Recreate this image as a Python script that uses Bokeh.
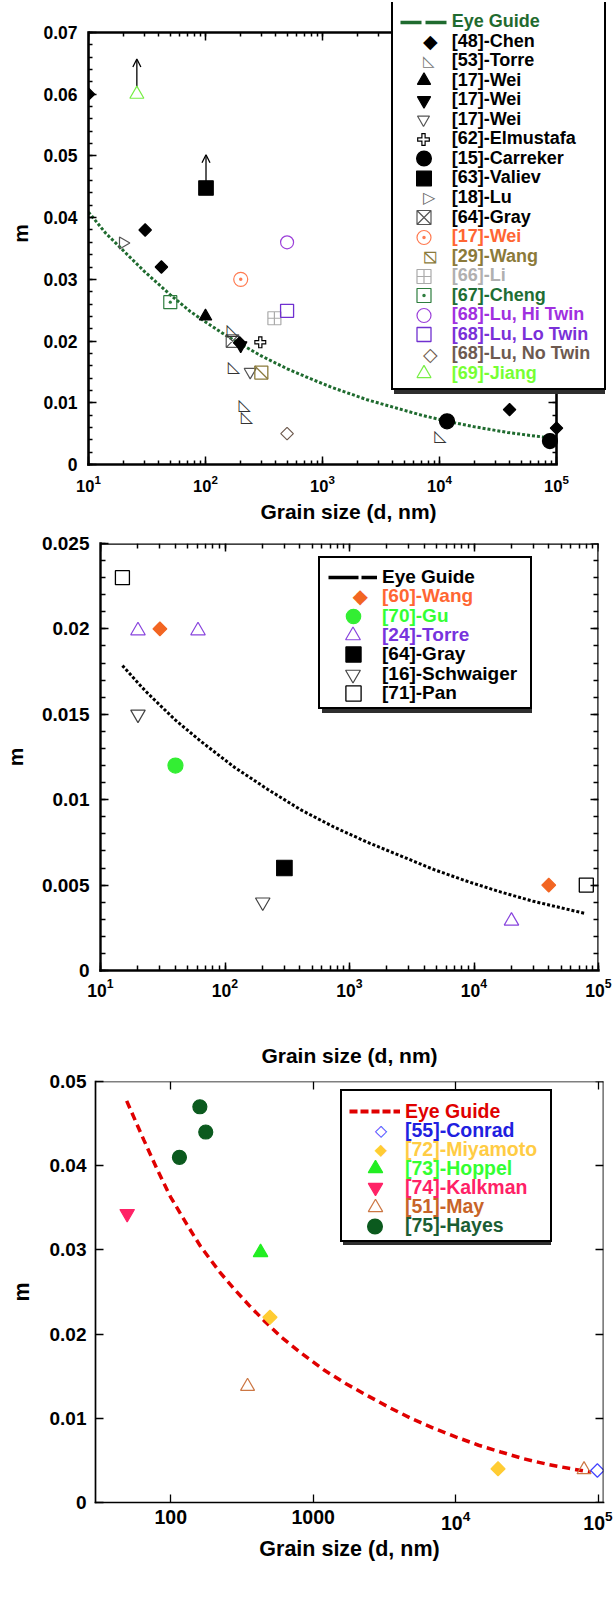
import math

from bokeh.core.properties import value
from bokeh.embed import file_html
from bokeh.layouts import column
from bokeh.models import (Arrow, CustomJSTickFormatter, FixedTicker, Legend,
                          LegendItem, LinearAxis, LogAxis, LogTicker, LogTickFormatter,
                          OpenHead, Range1d)
from bokeh.plotting import figure
from bokeh.resources import INLINE

FONT = "Liberation Sans"
SYM_FONT = "DejaVu Sans"
ROT = math.pi / 4

# ----------------------------------------------------------------- panel 1 data
p1_y_ticks = [0, 0.01, 0.02, 0.03, 0.04, 0.05, 0.06, 0.07]
p1_y_tick_labels = ["0", "0.01", "0.02", "0.03", "0.04", "0.05", "0.06", "0.07"]

p1_guide_d = [10, 14, 20, 30, 50, 74, 100, 150, 200, 300, 500, 790, 1200, 2400,
              4000, 7000, 11600, 20000, 38000, 60000, 81000]
p1_guide_m = [0.0409, 0.0375, 0.0346, 0.0313, 0.0275, 0.0248, 0.0231, 0.0209, 0.0195,
              0.0176, 0.0155, 0.0139, 0.0125, 0.0105, 0.0093, 0.0080, 0.0070, 0.0061,
              0.0052, 0.0047, 0.0044]

p1_chen_d = [10, 30.5, 42, 196, 39700, 100000]
p1_chen_m = [0.060, 0.038, 0.032, 0.0197, 0.0089, 0.0059]
p1_torre_d = [171, 175, 216, 226, 10200]
p1_torre_m = [0.0218, 0.0159, 0.0098, 0.0077, 0.0047]
p1_wei_up_d, p1_wei_up_m = [100], [0.024]
p1_wei_down_d, p1_wei_down_m = [200], [0.0193]
p1_wei_open_d, p1_wei_open_m = [241], [0.0150]
p1_elmustafa_d, p1_elmustafa_m = [294], [0.0198]
p1_carreker_d, p1_carreker_m = [11600, 87900], [0.0070, 0.0038]
p1_valiev_d, p1_valiev_m = [101], [0.0448]
p1_lu_d, p1_lu_m = [19.7], [0.0359]
p1_gray_d, p1_gray_m = [170], [0.0200]
p1_wei_orange_d, p1_wei_orange_m = [200], [0.0300]
p1_wang_d, p1_wang_m = [300], [0.0149]
p1_li_d, p1_li_m = [388], [0.0237]
p1_cheng_d, p1_cheng_m = [50], [0.0263]
p1_lu_hi_d, p1_lu_hi_m = [498], [0.0360]
p1_lu_lo_d, p1_lu_lo_m = [498], [0.0249]
p1_lu_no_d, p1_lu_no_m = [498], [0.0050]
p1_jiang_d, p1_jiang_m = [25.9], [0.0600]
# lower bounds: arrows pointing upward from these points
p1_arrow_d = [25.9, 101]
p1_arrow_from = [0.0600, 0.0448]
p1_arrow_to = [0.0657, 0.0502]

# ----------------------------------------------------------------- panel 2 data
p2_y_ticks = [0, 0.005, 0.01, 0.015, 0.02, 0.025]
p2_y_tick_labels = ["0", "0.005", "0.01", "0.015", "0.02", "0.025"]

p2_guide_d = [15, 22.7, 39.4, 64.4, 119, 221, 408, 750, 1400, 2600, 4800, 9000,
              16300, 30000, 55000, 77000]
p2_guide_m = [0.01785, 0.0164, 0.0147, 0.0134, 0.0119, 0.0106, 0.0094, 0.0084, 0.0075,
              0.0067, 0.0059, 0.0052, 0.0046, 0.00405, 0.0036, 0.00335]

p2_wang_d, p2_wang_m = [30, 39850], [0.0200, 0.0050]
p2_gu_d, p2_gu_m = [40], [0.0120]
p2_torre_d, p2_torre_m = [20, 60.7, 20000], [0.0199, 0.0199, 0.0029]
p2_gray_d, p2_gray_m = [300], [0.0060]
p2_schwaiger_d, p2_schwaiger_m = [20, 201], [0.0150, 0.0040]
p2_pan_d, p2_pan_m = [15, 79800], [0.0230, 0.0050]

# ----------------------------------------------------------------- panel 3 data
p3_y_ticks = [0, 0.01, 0.02, 0.03, 0.04, 0.05]
p3_y_tick_labels = ["0", "0.01", "0.02", "0.03", "0.04", "0.05"]

p3_guide_d = [49, 64.5, 80, 99.5, 130, 162, 220, 277, 360, 452, 600, 815, 1200, 1700,
              2400, 3500, 5000, 7050, 10000, 14500, 20750, 30000, 45000, 65000, 89000]
p3_guide_m = [0.0477, 0.0431, 0.0396, 0.0363, 0.0330, 0.0304, 0.0274, 0.0254, 0.0233,
              0.0216, 0.0196, 0.0178, 0.0157, 0.0141, 0.0127, 0.0112, 0.0099, 0.0088,
              0.0078, 0.0068, 0.0060, 0.0052, 0.0045, 0.0040, 0.0036]

p3_conrad_d, p3_conrad_m = [99000], [0.0038]
p3_miyamoto_d, p3_miyamoto_m = [497, 19860], [0.0220, 0.0040]
p3_hoppel_d, p3_hoppel_m = [427], [0.0297]
p3_kalkman_d, p3_kalkman_m = [49.4], [0.0343]
p3_may_d, p3_may_m = [346, 79800], [0.0138, 0.0039]
p3_hayes_d, p3_hayes_m = [160, 176, 115], [0.0470, 0.0440, 0.0410]

XLABEL = "Grain size (d, nm)"
YLABEL = "m"


# ----------------------------------------------------------------- helpers
def make_panel(cfg):
    """A log-x panel whose plotting box may be smaller than the frame.

    The box is drawn by four axes restricted with ``bounds``; the frame can
    extend beyond it so that the legend may overhang the box."""
    h = cfg["height"]
    x0, x1 = cfg["x_box"]
    y0, y1 = cfg["y_box"]
    p = figure(width=614, height=h, x_axis_type="log",
               x_range=Range1d(*cfg["x_range"]), y_range=Range1d(*cfg["y_range"]),
               output_backend="svg", toolbar_location=None, frame_align=False,
               min_border_left=cfg["left"], min_border_right=614 - cfg["right"],
               min_border_top=cfg["top"], min_border_bottom=h - cfg["bottom"])
    p.grid.visible = False
    p.background_fill_color = "white"
    p.border_fill_color = "white"
    p.outline_line_color = None

    xt = LogTicker(num_minor_ticks=10 if cfg["x_minor"] else 0)
    yt = FixedTicker(ticks=cfg["y_ticks"], minor_ticks=cfg["y_minor"])

    xa = p.xaxis[0]
    xa.ticker = xt
    xa.formatter = cfg["x_formatter"]
    xa.axis_label = XLABEL
    xa.major_label_text_font_size = cfg["xtick_font"]
    xa.major_label_standoff = cfg["xtick_standoff"]
    xa.axis_label_standoff = cfg["xlabel_standoff"]

    ya = p.yaxis[0]
    ya.ticker = yt
    ya.major_label_overrides = dict(zip(cfg["y_ticks"], cfg["y_labels"]))
    ya.axis_label = YLABEL
    ya.major_label_text_font_size = cfg["ytick_font"]
    ya.major_label_standoff = cfg["ytick_standoff"]
    ya.axis_label_standoff = cfg["ylabel_standoff"]

    blank = CustomJSTickFormatter(code="return ''")
    top_ax = LogAxis(ticker=xt, formatter=blank, major_label_standoff=0, fixed_location=y1)
    right_ax = LinearAxis(ticker=yt, formatter=blank, major_label_standoff=0, fixed_location=x1)
    p.add_layout(top_ax, "above")
    p.add_layout(right_ax, "right")

    for ax in (xa, top_ax):
        ax.bounds = (x0, x1)
    for ax in (ya, right_ax):
        ax.bounds = (y0, y1)

    for ax in (xa, ya, top_ax, right_ax):
        ax.axis_line_color = "black"
        ax.axis_line_width = cfg["frame_w"]
        ax.axis_line_cap = "square"
        ax.major_tick_in = cfg["major_len"]
        ax.major_tick_out = 0
        ax.minor_tick_in = cfg["minor_len"]
        ax.minor_tick_out = 0
        ax.major_tick_line_color = "black"
        ax.major_tick_line_width = cfg["tick_w"]
        ax.minor_tick_line_color = "black"
        ax.minor_tick_line_width = cfg["tick_w"]
        ax.major_label_text_font = FONT
        ax.major_label_text_font_style = "bold"
        ax.major_label_text_color = "black"
        ax.axis_label_text_font = FONT
        ax.axis_label_text_font_style = "bold"
        ax.axis_label_text_font_size = cfg["label_font"]
        ax.axis_label_text_color = "black"
    if not cfg["x_minor"]:
        xa.minor_tick_line_color = None
        top_ax.minor_tick_line_color = None

    ghost = p.scatter(x=[], y=[], size=1, fill_alpha=0, line_alpha=0)
    return p, ghost


ROW_H = 60


def _bare(item, loc, gw, **kw):
    return Legend(items=[item], location=loc, padding=0, margin=0, spacing=0,
                  glyph_width=gw, glyph_height=ROW_H, label_width=0, label_height=0,
                  border_line_alpha=0, background_fill_alpha=0, **kw)


def legend_box(p, fr, box, ghost, shadow, border_w):
    left, top, right, bottom = box[0], box[1] - fr["off"], box[2], box[3] - fr["off"]
    w, h = int(round(right - left)), int(round(bottom - top))
    for dx, fill, alpha in ((shadow, "#2e2e2e", 0), (0, "white", 1)):
        item = LegendItem(label="", renderers=[ghost])
        loc = (left + dx - fr["left"], fr["bottom"] - bottom - dx)
        p.add_layout(Legend(items=[item], location=loc, padding=0, margin=0, spacing=0,
                            glyph_width=w, glyph_height=h, label_width=0, label_height=0,
                            label_standoff=0, label_text_alpha=0, label_text_font_size="1px",
                            background_fill_color=fill, background_fill_alpha=1,
                            border_line_color="black", border_line_alpha=alpha,
                            border_line_width=border_w))


def legend_glyph(p, fr, renderers, gw, cx, cy):
    cy = cy - fr["off"]
    item = LegendItem(label="", renderers=renderers)
    loc = (cx - gw / 2 - fr["left"], fr["bottom"] - cy - ROW_H / 2)
    p.add_layout(_bare(item, loc, gw, label_standoff=0, label_text_alpha=0,
                       label_text_font_size="1px"))


def legend_text(p, fr, text, color, x, cy, font_size, ghost, font=FONT, style="bold",
                align="left"):
    cy = cy - fr["off"]
    item = LegendItem(label=text, renderers=[ghost])
    loc = (x - 1 - fr["left"], fr["bottom"] - cy - ROW_H / 2)
    p.add_layout(_bare(item, loc, 1, label_standoff=0, label_text_color=color,
                       label_text_font=font, label_text_font_style=style,
                       label_text_font_size=font_size, label_text_align=align))


def build_legend(p, fr, ghost, spec, rows):
    legend_box(p, fr, spec["box"], ghost, spec["shadow"], spec["border_w"])
    for i, (label, color, parts) in enumerate(rows):
        cy = spec["y0"] + i * spec["pitch"]
        for kind, obj, px in parts:
            if kind == "line":
                legend_glyph(p, fr, [obj], spec["line_w"], spec["cx"], cy)
            elif kind == "char":
                legend_text(p, fr, obj, px[0], spec["cx"], cy + px[2], px[1], ghost,
                            font=SYM_FONT, style="normal", align="center")
            else:
                legend_glyph(p, fr, obj, max(int(round(px / 0.4)), 2), spec["cx"], cy)
        legend_text(p, fr, label, color, spec["label_x"], cy, spec["font"], ghost)


def mk(p, d, m, marker, size, fill=None, line="black", lw=1.2, angle=0.0):
    return p.scatter(x=d, y=m, marker=marker, size=size, angle=angle,
                     fill_color=fill if fill else "white", fill_alpha=1 if fill else 0,
                     line_color=line, line_width=lw)


# ================================================================= panel 1
# plotting box: x 88..556 px (10..1e5), y 464..32 px (0..0.07); the frame
# reaches further up and right so the legend may overhang the box.
P1_DECADE = (556 - 88) / 4.0
P1_XMAX = 10 ** (5 + (608 - 556) / P1_DECADE)
P1_YMAX = 0.07 * (464 - 2) / (464 - 32)
cfg1 = dict(height=530, left=88, right=608, top=2, bottom=464,
            x_range=(10, P1_XMAX), y_range=(0, P1_YMAX),
            x_box=(10, 1e5), y_box=(0, 0.07), frame_w=2.6, tick_w=1.5,
            major_len=8, minor_len=4, x_minor=True,
            y_ticks=p1_y_ticks, y_labels=p1_y_tick_labels,
            y_minor=[round(0.002 * i, 3) for i in range(36)],
            x_formatter=LogTickFormatter(), xtick_font="16.5px", ytick_font="17.5px",
            label_font="21px", xtick_standoff=10, ytick_standoff=11,
            xlabel_standoff=5, ylabel_standoff=8)
p1, ghost1 = make_panel(cfg1)
fr1 = dict(left=88, bottom=464, off=0)

GREEN1 = "#1f6b2f"
p1.line(p1_guide_d, p1_guide_m, line_color=GREEN1, line_width=3, line_dash="3 2")
guide1_key = p1.line(p1_guide_d, p1_guide_m, line_color=GREEN1, line_width=3.5,
                     line_dash="21 4", visible=False)

for d, m0, m1 in zip(p1_arrow_d, p1_arrow_from, p1_arrow_to):
    p1.add_layout(Arrow(end=OpenHead(size=8, line_width=1.3, line_color="black"),
                        x_start=d, y_start=m0, x_end=d, y_end=m1,
                        line_width=1.3, line_color="black", level="underlay"))

r_gray = mk(p1, p1_gray_d, p1_gray_m, "square_x", 12.5, line="#555555")
p1.text(x=p1_torre_d, y=p1_torre_m, text=value("\u25fa"), text_font=value(SYM_FONT),
        text_font_size=value("16px"), text_color="#333333",
        text_align="center", text_baseline="middle")
r_wei_open = mk(p1, p1_wei_open_d, p1_wei_open_m, "inverted_triangle", 12, line="#555555")
r_lu = mk(p1, p1_lu_d, p1_lu_m, "triangle", 12, line="#555555", angle=-math.pi / 2)
r_wei_or = mk(p1, p1_wei_orange_d, p1_wei_orange_m, "circle_dot", 14, line="#ff7a50")
r_wang_sq = mk(p1, p1_wang_d, p1_wang_m, "square", 13, line="#8b7b3b", lw=1.3)
r_wang_dg = mk(p1, p1_wang_d, p1_wang_m, "dash", 18.4, line="#8b7b3b", lw=1.3, angle=-ROT)
r_li = mk(p1, p1_li_d, p1_li_m, "square_cross", 13, line="#aaaaaa")
r_cheng = mk(p1, p1_cheng_d, p1_cheng_m, "square_dot", 13, line="#2e7d3e")
r_hi = mk(p1, p1_lu_hi_d, p1_lu_hi_m, "circle", 13, line="#9b3fd9")
r_lo = mk(p1, p1_lu_lo_d, p1_lu_lo_m, "square", 13, line="#7030d0", lw=1.3)
r_no = mk(p1, p1_lu_no_d, p1_lu_no_m, "square", 8.9, line="#6e5a4e", angle=ROT)
r_jiang = mk(p1, p1_jiang_d, p1_jiang_m, "triangle", 14, fill="white", line="#77ee44")
r_elm_b = mk(p1, p1_elmustafa_d, p1_elmustafa_m, "cross", 12, line="black", lw=4.4)
r_elm_w = mk(p1, p1_elmustafa_d, p1_elmustafa_m, "cross", 9.8, line="white", lw=2.0)
r_wei_dn = mk(p1, p1_wei_down_d, p1_wei_down_m, "inverted_triangle", 12.5, fill="black")
r_chen = mk(p1, p1_chen_d, p1_chen_m, "square", 8.8, fill="black", angle=ROT)
r_wei_up = mk(p1, p1_wei_up_d, p1_wei_up_m, "triangle", 12.5, fill="black")
r_carr = mk(p1, p1_carreker_d, p1_carreker_m, "circle", 15, fill="black")
r_val = mk(p1, p1_valiev_d, p1_valiev_m, "square", 14.5, fill="black")

legend1 = dict(box=(390.7, 4, 601.7, 390), shadow=3.5, border_w=2,
               cx=423, label_x=451.7, y0=21.7, pitch=19.53, line_w=47, font="18px")
rows1 = [
    ("Eye Guide", GREEN1, [("line", guide1_key, None)]),
    ("[48]-Chen", "black", [("char", "\u25c6", ("black", "19px", 0))]),
    ("[53]-Torre", "black", [("char", "\u25fa", ("#777777", "15px", 0))]),
    ("[17]-Wei", "black", [("m", [r_wei_up], 13.3)]),
    ("[17]-Wei", "black", [("m", [r_wei_dn], 13.3)]),
    ("[17]-Wei", "black", [("m", [r_wei_open], 12)]),
    ("[62]-Elmustafa", "black", [("m", [r_elm_b], 12.8), ("m", [r_elm_w], 10.4)]),
    ("[15]-Carreker", "black", [("m", [r_carr], 14.8)]),
    ("[63]-Valiev", "black", [("m", [r_val], 14.8)]),
    ("[18]-Lu", "black", [("char", "\u25b7", ("#666666", "16px", 0))]),
    ("[64]-Gray", "black", [("m", [r_gray], 14)]),
    ("[17]-Wei", "#ff6633", [("m", [r_wei_or], 14)]),
    ("[29]-Wang", "#8b7a3a", [("char", "\u29c5", ("#8b7b3b", "23px", 0))]),
    ("[66]-Li", "#b0b0b0", [("m", [r_li], 14)]),
    ("[67]-Cheng", "#1e6e34", [("m", [r_cheng], 14)]),
    ("[68]-Lu, Hi Twin", "#a030e0", [("m", [r_hi], 14)]),
    ("[68]-Lu, Lo Twin", "#7a30d8", [("m", [r_lo], 14)]),
    ("[68]-Lu, No Twin", "#6d5a50", [("char", "\u25c7", ("#6e5a4e", "19px", 0))]),
    ("[69]-Jiang", "#77ff33", [("m", [r_jiang], 14)]),
]
build_legend(p1, fr1, ghost1, legend1, rows1)

# ================================================================= panel 2
cfg2 = dict(height=540, left=99, right=598, top=13, bottom=440,
            x_range=(10, 1e5), y_range=(0, 0.025), x_box=(10, 1e5), y_box=(0, 0.025),
            frame_w=2.4, tick_w=1.5, major_len=8, minor_len=5, x_minor=True,
            y_ticks=p2_y_ticks, y_labels=p2_y_tick_labels,
            y_minor=[round(0.001 * i, 3) for i in range(26)],
            x_formatter=LogTickFormatter(), xtick_font="17.5px", ytick_font="19px",
            label_font="21px", xtick_standoff=7, ytick_standoff=11,
            xlabel_standoff=44, ylabel_standoff=12)
p2, ghost2 = make_panel(cfg2)
fr2 = dict(left=99, bottom=440, off=530)

p2.line(p2_guide_d, p2_guide_m, line_color="black", line_width=3, line_dash="3 2")
guide2_key = p2.line(p2_guide_d, p2_guide_m, line_color="black", line_width=3.5,
                     line_dash="30 3", visible=False)
q_torre = mk(p2, p2_torre_d, p2_torre_m, "triangle", 14.5, line="#8844dd")
q_schw = mk(p2, p2_schwaiger_d, p2_schwaiger_m, "inverted_triangle", 14.5, line="#444444")
q_pan = mk(p2, p2_pan_d, p2_pan_m, "square", 14, line="black", lw=1.3)
q_wang = mk(p2, p2_wang_d, p2_wang_m, "square", 9.8, fill="#f26522", line="#f26522", angle=ROT)
q_gu = mk(p2, p2_gu_d, p2_gu_m, "circle", 15, fill="#33ee33", line="#33ee33")
q_gray = mk(p2, p2_gray_d, p2_gray_m, "square", 15.5, fill="black")

legend2 = dict(box=(317.3, 560, 527.7, 709.3), shadow=3.5, border_w=2,
               cx=351.5, label_x=381, y0=576.7, pitch=19.44, line_w=49, font="19px")
rows2 = [
    ("Eye Guide", "black", [("line", guide2_key, None)]),
    ("[60]-Wang", "#ff6633", [("char", "\u25c6", ("#f26522", "20px", 0))]),
    ("[70]-Gu", "#33ff33", [("m", [q_gu], 14.4)]),
    ("[24]-Torre", "#7733dd", [("m", [q_torre], 14.8)]),
    ("[64]-Gray", "black", [("m", [q_gray], 15.2)]),
    ("[16]-Schwaiger", "black", [("m", [q_schw], 14.8)]),
    ("[71]-Pan", "black", [("m", [q_pan], 15.2)]),
]
build_legend(p2, fr2, ghost2, legend2, rows2)

# ================================================================= panel 3
cfg3 = dict(height=549, left=95, right=603, top=11, bottom=432,
            x_range=(29.6, 1.093e5), y_range=(0, 0.05),
            x_box=(29.6, 1.093e5), y_box=(0, 0.05), frame_w=1.7, tick_w=1.3,
            major_len=8, minor_len=0, x_minor=False,
            y_ticks=p3_y_ticks, y_labels=p3_y_tick_labels, y_minor=[],
            x_formatter=LogTickFormatter(min_exponent=4), xtick_font="19.5px",
            ytick_font="19px", label_font="21.5px", xtick_standoff=7, ytick_standoff=9,
            xlabel_standoff=4, ylabel_standoff=13)
p3, ghost3 = make_panel(cfg3)
fr3 = dict(left=95, bottom=432, off=1070)

RED = "#e00000"
p3.line(p3_guide_d, p3_guide_m, line_color=RED, line_width=3.5, line_dash="8 5")
guide3_key = p3.line(p3_guide_d, p3_guide_m, line_color=RED, line_width=4,
                     line_dash="8 3", visible=False)
s_may = mk(p3, p3_may_d, p3_may_m, "triangle", 14, line="#cc7744")
s_conrad = mk(p3, p3_conrad_d, p3_conrad_m, "square", 9.5, line="#4444ff", angle=ROT)
s_miya = mk(p3, p3_miyamoto_d, p3_miyamoto_m, "square", 10, fill="#ffcc33", line="#ffcc33", angle=ROT)
s_hoppel = mk(p3, p3_hoppel_d, p3_hoppel_m, "triangle", 14.5, fill="#22ee22", line="#22ee22")
s_kalk = mk(p3, p3_kalkman_d, p3_kalkman_m, "inverted_triangle", 14.5, fill="#ff2266", line="#ff2266")
s_hayes = mk(p3, p3_hayes_d, p3_hayes_m, "circle", 14, fill="#0b5a1e", line="#0b5a1e")

legend3 = dict(box=(340, 1092.7, 548.3, 1241.7), shadow=3, border_w=2,
               cx=374.8, label_x=405, y0=1111, pitch=19.1, line_w=51, font="19.5px")
rows3 = [
    ("Eye Guide", RED, [("line", guide3_key, None)]),
    ("[55]-Conrad", "#2020e0", [("char", "\u25c7", ("#4444ff", "16px", 0))]),
    ("[72]-Miyamoto", "#ffcc44", [("char", "\u25c6", ("#ffcc33", "16px", 0))]),
    ("[73]-Hoppel", "#33ff33", [("m", [s_hoppel], 14.4)]),
    ("[74]-Kalkman", "#ff2266", [("m", [s_kalk], 14.4)]),
    ("[51]-May", "#c86428", [("m", [s_may], 14.4)]),
    ("[75]-Hayes", "#1b5e33", [("m", [s_hayes], 14.8)]),
]
build_legend(p3, fr3, ghost3, legend3, rows3)

layout = column(p1, p2, p3, spacing=0)
open("out.html", "w").write(file_html(layout, INLINE))
